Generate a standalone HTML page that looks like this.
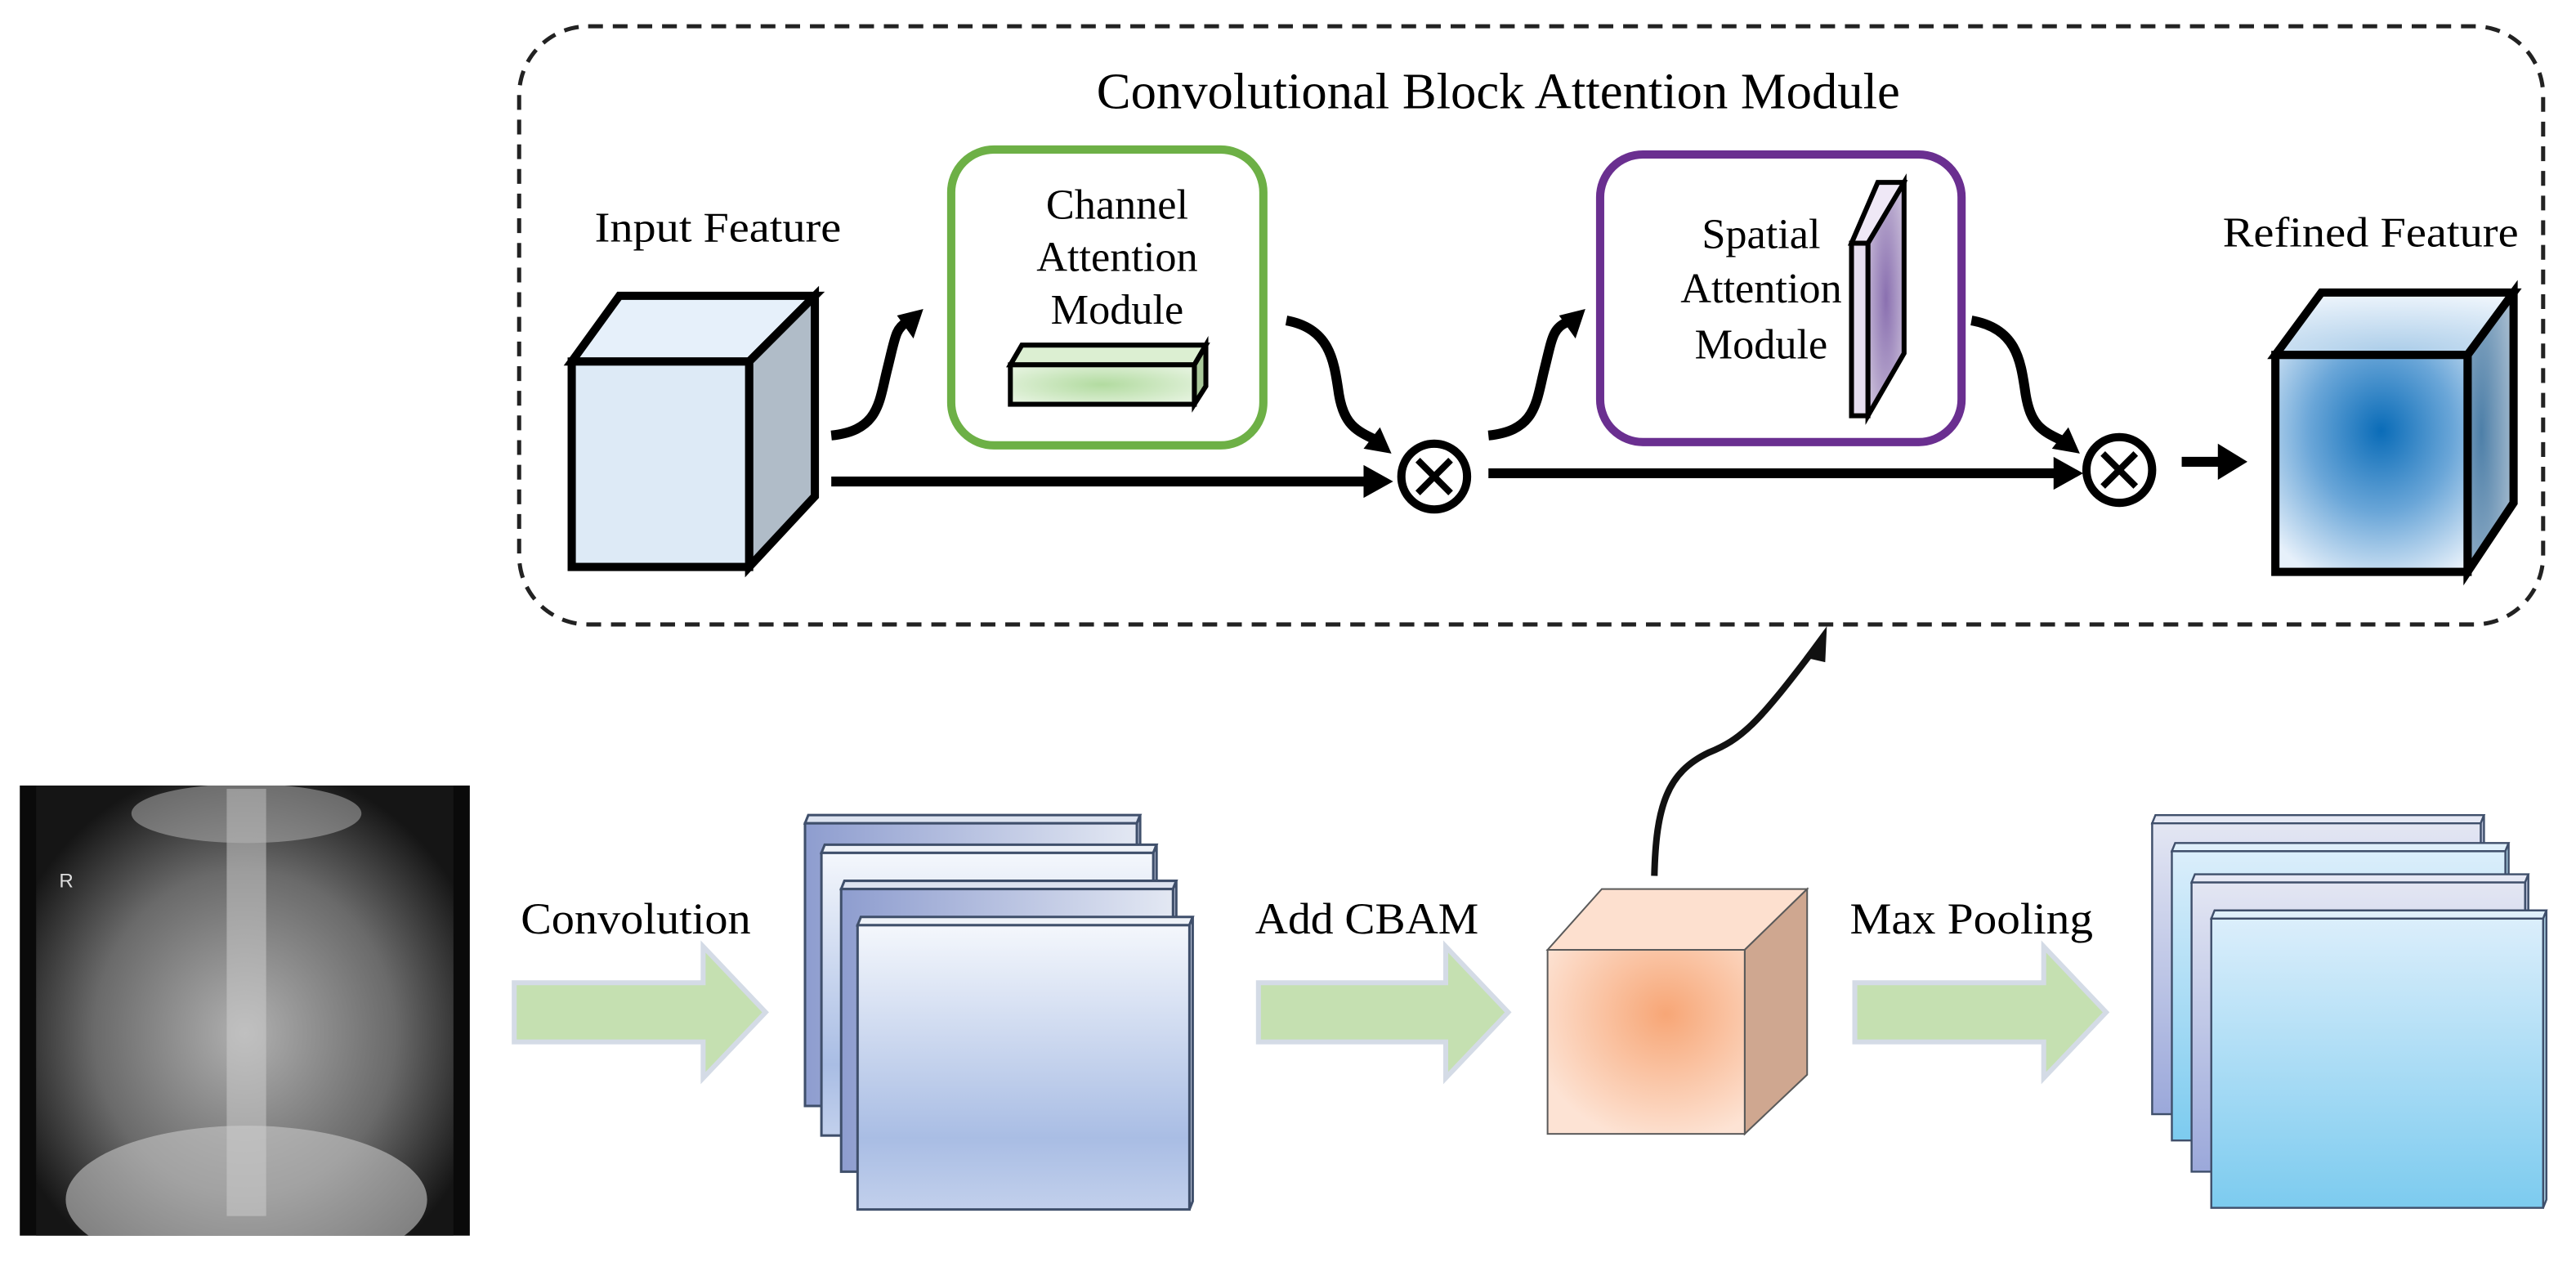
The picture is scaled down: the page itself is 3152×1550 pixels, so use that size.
<!DOCTYPE html>
<html><head><meta charset="utf-8"><style>html,body{margin:0;padding:0;background:#fff}svg{display:block}</style></head>
<body>
<svg width="3152" height="1550" viewBox="0 0 1568 771" preserveAspectRatio="none" xmlns="http://www.w3.org/2000/svg" font-family="Liberation Serif, serif">
<defs>
<radialGradient id="rf" cx="0.55" cy="0.35" r="0.75"><stop offset="0" stop-color="#0a6cb8"/><stop offset="0.5" stop-color="#6aa6d8"/><stop offset="1" stop-color="#e6f0fa"/></radialGradient>
<radialGradient id="rfs" cx="0.3" cy="0.5" r="0.9"><stop offset="0" stop-color="#4d7fa8"/><stop offset="1" stop-color="#b9c9d8"/></radialGradient>
<radialGradient id="rft" cx="0.5" cy="1" r="1"><stop offset="0" stop-color="#a8cbe8"/><stop offset="1" stop-color="#eef5fc"/></radialGradient>
<radialGradient id="gb" cx="0.5" cy="0.5" r="0.6"><stop offset="0" stop-color="#b2dba0"/><stop offset="1" stop-color="#e3f2dc"/></radialGradient>
<radialGradient id="pb" cx="0.5" cy="0.5" r="0.6"><stop offset="0" stop-color="#8a70b0"/><stop offset="1" stop-color="#c8bcd8"/></radialGradient>
<radialGradient id="or" cx="0.6" cy="0.35" r="0.7"><stop offset="0" stop-color="#f7a676"/><stop offset="1" stop-color="#fde3d4"/></radialGradient>
<linearGradient id="s1" x1="0" y1="0" x2="1" y2="0"><stop offset="0" stop-color="#8e9dcf"/><stop offset="1" stop-color="#e3e8f3"/></linearGradient>
<linearGradient id="s2" x1="0" y1="0" x2="0" y2="1"><stop offset="0" stop-color="#f4f7fc"/><stop offset="0.75" stop-color="#a9bde4"/><stop offset="1" stop-color="#c2d0ec"/></linearGradient>
<linearGradient id="m1" x1="0" y1="0" x2="0" y2="1"><stop offset="0" stop-color="#e3e6f3"/><stop offset="1" stop-color="#9ba8da"/></linearGradient>
<linearGradient id="m2" x1="0" y1="0" x2="0" y2="1"><stop offset="0" stop-color="#dbeefb"/><stop offset="1" stop-color="#7ccbef"/></linearGradient>
<radialGradient id="xr" cx="0.5" cy="0.55" r="0.6"><stop offset="0" stop-color="#b0b0b0"/><stop offset="0.6" stop-color="#6a6a6a"/><stop offset="1" stop-color="#151515"/></radialGradient>
<clipPath id="xc"><rect x="12" y="478" width="274" height="274"/></clipPath>
</defs>

<rect x="316" y="16" width="1232" height="364" rx="42" fill="none" stroke="#222" stroke-width="2.5" stroke-dasharray="9,6"/>
<text x="912" y="66" font-size="31" text-anchor="middle" textLength="489" lengthAdjust="spacingAndGlyphs">Convolutional Block Attention Module</text>
<text x="437" y="147" font-size="26" text-anchor="middle" textLength="150" lengthAdjust="spacingAndGlyphs">Input Feature</text>
<text x="1443" y="150" font-size="26" text-anchor="middle" textLength="180" lengthAdjust="spacingAndGlyphs">Refined Feature</text>

<polygon points="348,220 377,180 496,180 456,220" fill="#e6f0fa" stroke="#000" stroke-width="5"/>
<polygon points="456,220 496,180 496,302 456,345" fill="#b0bcc8" stroke="#000" stroke-width="5"/>
<rect x="348" y="220" width="108" height="125" fill="#ddeaf6" stroke="#000" stroke-width="5"/>

<rect x="579" y="91" width="190" height="180" rx="26" fill="#fff" stroke="#6db046" stroke-width="5"/>
<text font-size="26" text-anchor="middle"><tspan x="680" y="133">Channel</tspan><tspan x="680" y="165">Attention</tspan><tspan x="680" y="197">Module</tspan></text>
<polygon points="615,222 622,210 734,210 727,222" fill="#dcefd2" stroke="#000" stroke-width="3"/>
<polygon points="727,222 734,210 734,235 727,246" fill="#a9c99a" stroke="#000" stroke-width="3"/>
<rect x="615" y="222" width="112" height="24" fill="url(#gb)" stroke="#000" stroke-width="3"/>

<rect x="974" y="94" width="220" height="175" rx="26" fill="#fff" stroke="#6a2f90" stroke-width="5"/>
<text font-size="26" text-anchor="middle"><tspan x="1072" y="151">Spatial</tspan><tspan x="1072" y="184">Attention</tspan><tspan x="1072" y="218">Module</tspan></text>
<polygon points="1127,148 1145,148 1159,111 1143,111" fill="#efe8f6" stroke="#000" stroke-width="3"/>
<polygon points="1137,148 1159,111 1159,215 1137,253" fill="url(#pb)" stroke="#000" stroke-width="3"/>
<rect x="1127" y="148" width="10" height="105" fill="#e6def0" stroke="#000" stroke-width="3"/>

<polygon points="1385,216 1413,178 1530,178 1502,216" fill="url(#rft)" stroke="#000" stroke-width="5"/>
<polygon points="1502,216 1530,178 1530,306 1502,348" fill="url(#rfs)" stroke="#000" stroke-width="5"/>
<rect x="1385" y="216" width="117" height="132" fill="url(#rf)" stroke="#000" stroke-width="5"/>

<g stroke="#000" stroke-width="6" fill="none">
<line x1="506" y1="293" x2="832" y2="293"/>
<line x1="906" y1="288" x2="1252" y2="288"/>
<line x1="1328" y1="281" x2="1352" y2="281"/>
<path d="M506,265 C535,262 535,245 540,225 C545,205 545,200 552,196"/>
<path d="M783,195 C810,200 812,220 815,240 C818,258 825,262 838,268"/>
<path d="M906,265 C935,262 935,245 940,225 C945,205 945,200 954,196"/>
<path d="M1200,195 C1228,200 1230,220 1233,240 C1236,258 1242,262 1255,268"/>
</g>
<g fill="#000">
<polygon points="848,293 830,283 830,303"/>
<polygon points="1268,288 1250,278 1250,298"/>
<polygon points="1368,281 1350,270 1350,292"/>
<polygon points="562,188 546,192 556,206"/>
<polygon points="965,188 949,192 959,206"/>
<polygon points="847,276 830,273 840,260"/>
<polygon points="1266,276 1249,273 1259,260"/>
</g>
<circle cx="873" cy="290" r="20" fill="#fff" stroke="#000" stroke-width="5"/>
<path d="M863,280 L883,300 M883,280 L863,300" stroke="#000" stroke-width="4"/>
<circle cx="1290" cy="286" r="20" fill="#fff" stroke="#000" stroke-width="5"/>
<path d="M1280,276 L1300,296 M1300,276 L1280,296" stroke="#000" stroke-width="4"/>

<g clip-path="url(#xc)">
<rect x="12" y="478" width="274" height="274" fill="#0a0a0a"/>
<rect x="22" y="478" width="254" height="274" fill="url(#xr)"/>
<ellipse cx="150" cy="730" rx="110" ry="45" fill="#c8c8c8" opacity="0.6"/>
<rect x="138" y="480" width="24" height="260" fill="#d0d0d0" opacity="0.5"/>
<ellipse cx="150" cy="495" rx="70" ry="18" fill="#b8b8b8" opacity="0.5"/>
<text x="36" y="540" font-size="12" fill="#ddd" font-family="Liberation Sans, sans-serif">R</text>
</g>

<text x="387" y="568" font-size="27" text-anchor="middle" textLength="140" lengthAdjust="spacingAndGlyphs">Convolution</text>
<text x="832" y="568" font-size="27" text-anchor="middle" textLength="136" lengthAdjust="spacingAndGlyphs">Add CBAM</text>
<text x="1200" y="568" font-size="27" text-anchor="middle" textLength="148" lengthAdjust="spacingAndGlyphs">Max Pooling</text>

<g fill="#c5e0b1" stroke="#d4dbe6" stroke-width="3">
<polygon points="313,598 428,598 428,576 466,616 428,656 428,634 313,634"/>
<polygon points="766,598 880,598 880,576 918,616 880,656 880,634 766,634"/>
<polygon points="1129,598 1244,598 1244,576 1282,616 1244,656 1244,634 1129,634"/>
</g>

<g stroke="#3f4f6b" stroke-width="1.5">
<polygon points="490,501 492,496 694,496 692,501" fill="#dde3f0"/><polygon points="692,501 694,496 694,668 692,673" fill="#c8d0e4"/><rect x="490" y="501" width="202" height="172" fill="url(#s1)"/>
<polygon points="500,519 502,514 704,514 702,519" fill="#eef2f8"/><polygon points="702,519 704,514 704,686 702,691" fill="#c8d0e4"/><rect x="500" y="519" width="202" height="172" fill="url(#s2)"/>
<polygon points="512,541 514,536 716,536 714,541" fill="#dde3f0"/><polygon points="714,541 716,536 716,708 714,713" fill="#c8d0e4"/><rect x="512" y="541" width="202" height="172" fill="url(#s1)"/>
<polygon points="522,563 524,558 726,558 724,563" fill="#eef2f8"/><polygon points="724,563 726,558 726,731 724,736" fill="#c8d0e4"/><rect x="522" y="563" width="202" height="173" fill="url(#s2)"/>
</g>

<g stroke="#5a5a5a" stroke-width="1">
<polygon points="942,578 975,541 1100,541 1062,578" fill="#fde0cf"/>
<polygon points="1062,578 1100,541 1100,654 1062,690" fill="#cfa790"/>
<rect x="942" y="578" width="120" height="112" fill="url(#or)"/>
</g>
<path d="M1007,533 C1008,490 1015,470 1040,458 C1060,450 1070,440 1102,398" stroke="#111" stroke-width="4" fill="none"/>
<polygon points="1112,381 1098,400 1111,403" fill="#111"/>

<g stroke="#3f4f6b" stroke-width="1.2">
<polygon points="1310,501 1312,496 1512,496 1510,501" fill="#e6e9f5"/><polygon points="1510,501 1512,496 1512,673 1510,678" fill="#b8c0d8"/><rect x="1310" y="501" width="200" height="177" fill="url(#m1)"/>
<polygon points="1322,518 1324,513 1527,513 1525,518" fill="#e0f0fb"/><polygon points="1525,518 1527,513 1527,689 1525,694" fill="#a8cce0"/><rect x="1322" y="518" width="203" height="176" fill="url(#m2)"/>
<polygon points="1334,537 1336,532 1539,532 1537,537" fill="#e6e9f5"/><polygon points="1537,537 1539,532 1539,708 1537,713" fill="#b8c0d8"/><rect x="1334" y="537" width="203" height="176" fill="url(#m1)"/>
<polygon points="1346,559 1348,554 1550,554 1548,559" fill="#e0f0fb"/><polygon points="1548,559 1550,554 1550,730 1548,735" fill="#a8cce0"/><rect x="1346" y="559" width="202" height="176" fill="url(#m2)"/>
</g>
</svg>
</body></html>
